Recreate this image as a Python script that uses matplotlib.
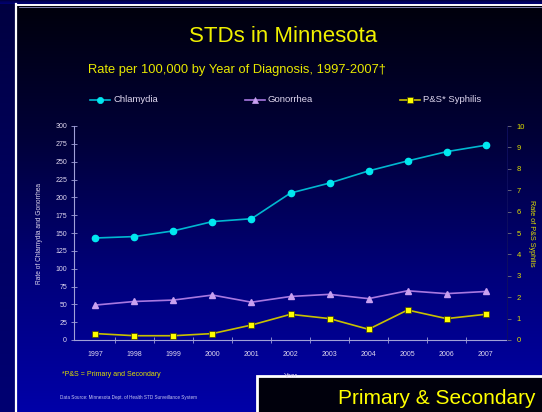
import numpy as np
import matplotlib
matplotlib.use("Agg")
import matplotlib.pyplot as plt
from matplotlib.patches import Rectangle
from matplotlib.lines import Line2D
from matplotlib.colors import LinearSegmentedColormap

plt.rcParams['font.family'] = ['Liberation Sans', 'DejaVu Sans']

years = [1997, 1998, 1999, 2000, 2001, 2002, 2003, 2004, 2005, 2006, 2007]
chlamydia = [143, 145, 153, 166, 170, 206, 220, 237, 251, 264, 273]
gonorrhea = [49, 54, 56, 63, 53, 61, 64, 58, 69, 65, 68]
syphilis = [0.3, 0.2, 0.2, 0.3, 0.7, 1.2, 1.0, 0.5, 1.4, 1.0, 1.2]
left_ticks = list(range(0, 301, 25))
right_ticks = list(range(0, 11))

W, H = 542, 412
fig = plt.figure(figsize=(W / 100, H / 100), dpi=100)

# background
bg = fig.add_axes([0, 0, 1, 1], zorder=-10)
bg.set_xlim(0, W)
bg.set_ylim(H, 0)
bg.axis('off')
grad = np.linspace(0, 1, 256).reshape(-1, 1)
cmap = LinearSegmentedColormap.from_list('bgc', ['#00000a', '#000038', '#00007a', '#0000a8'])
bg.imshow(grad, cmap=cmap, aspect='auto', extent=[0, W, H, 0])
strip = LinearSegmentedColormap.from_list('st', ['#000040', '#000060', '#000072'])
bg.imshow(grad, cmap=strip, aspect='auto', extent=[0, 16, H, 0])
bg.imshow(grad[:10], cmap=strip, aspect='auto', extent=[0, W, 4, 0])
bg.plot([16, 16], [4, H], color='white', lw=1.6)
bg.plot([16, W], [4.5, 4.5], color='white', lw=1.4)
bg.plot([18.5, W], [6.8, 6.8], color='#9090c0', lw=0.6)
# overlay box bottom right
bg.add_patch(Rectangle((257, 376), 300, 50, facecolor='#00000c', edgecolor='white', lw=2))
bg.text(338, 399, 'Primary & Secondary', color='#ffff00', fontsize=15,
        va='center', ha='left', clip_on=True)

# titles
fig.text(283 / W, 1 - 37 / H, 'STDs in Minnesota', color='#f0f000', fontsize=16,
         ha='center', va='center')
fig.text(237 / W, 1 - 70 / H, 'Rate per 100,000 by Year of Diagnosis, 1997-2007\u2020',
         color='#e8e800', fontsize=9.3, ha='center', va='center')

# main axes
ax = fig.add_axes([74 / W, 1 - 340 / H, (507 - 74) / W, (340 - 126) / H])
ax.patch.set_alpha(0)
ax2 = ax.twinx()

ax.plot(years, chlamydia, color='#00b8d0', lw=1.2, marker='o', ms=4.5,
        mfc='#00e8f0', mec='#00e8f0', zorder=3)
ax.plot(years, gonorrhea, color='#a878e0', lw=1.2, marker='^', ms=4.5,
        mfc='#c8a0f0', mec='#c8a0f0', zorder=3)
ax2.plot(years, syphilis, color='#c8c000', lw=1.2, marker='s', ms=5,
         mfc='#ffff00', mec='#404000', mew=0.5, zorder=3)

ax.set_xlim(1996.45, 2007.55)
ax.set_ylim(0, 300)
ax2.set_ylim(0, 10)
ax.set_yticks(left_ticks)
ax.set_yticklabels([str(t) for t in left_ticks])
ax2.set_yticks(right_ticks)
ax2.set_yticklabels([str(t) for t in right_ticks])
ax.set_xticks(years)
ax.set_xticklabels([str(y) for y in years])
ax.set_xticks([y + 0.5 for y in years[:-1]], minor=True)

for a in (ax, ax2):
    for s in a.spines.values():
        s.set_visible(False)
ax.spines['left'].set_visible(True)
ax.spines['bottom'].set_visible(True)
ax.spines['left'].set_color('#a0a0d8')
ax.spines['bottom'].set_color('#a0a0d8')
ax.spines['left'].set_linewidth(0.8)
ax.spines['bottom'].set_linewidth(0.8)
ax2.spines['right'].set_visible(True)
ax2.spines['right'].set_color('#101060')
ax2.spines['right'].set_linewidth(0.6)

ax.tick_params(axis='y', direction='inout', length=4, width=0.6, color='#a0a0d8',
               labelsize=5, labelcolor='#e0d8f0', pad=3)
ax.tick_params(axis='x', which='major', length=0, labelsize=5,
               labelcolor='#e0d8f0', pad=8)
ax.tick_params(axis='x', which='minor', direction='inout', length=4, width=0.6,
               color='#a0a0d8')
ax2.tick_params(axis='y', direction='out', length=3, width=0.6, color='#707080',
                labelsize=5.5, labelcolor='#e0e000', pad=4)

ax.set_ylabel('Rate of Chlamydia and Gonorrhea', fontsize=4.8, color='#e0d8f0',
              labelpad=2)
ax.yaxis.set_label_coords(-0.072, 0.5)
ax2.set_ylabel('Rate of P&S Syphilis', fontsize=5.2, color='#e0e000', rotation=270,
               labelpad=8)
ax2.yaxis.set_label_coords(1.065, 0.5)
ax.set_xlabel('Year', fontsize=5, color='#e0d8f0')
ax.xaxis.set_label_coords(0.5, -0.155)

# legend (manual)
leg_items = [
    (90, 'Chlamydia', '#00b8d0', 'o', '#00e8f0', '#00e8f0'),
    (245, 'Gonorrhea', '#a878e0', '^', '#c8a0f0', '#c8a0f0'),
    (400, 'P&S* Syphilis', '#c8c000', 's', '#ffff00', '#404000'),
]
for x0, lab, lc, mk, mf, me in leg_items:
    fig.add_artist(Line2D([x0 / W, (x0 + 20) / W], [1 - 100 / H] * 2, color=lc, lw=1.2,
                          transform=fig.transFigure))
    fig.add_artist(Line2D([(x0 + 10) / W], [1 - 100 / H], marker=mk, ms=4.5, mfc=mf,
                          mec=me, mew=0.5, transform=fig.transFigure))
    fig.text((x0 + 23) / W, 1 - 100 / H, lab, fontsize=6.8, color='#e0d8f0',
             ha='left', va='center')

fig.text(62 / W, 1 - 375 / H, '*P&S = Primary and Secondary', fontsize=5,
         color='#e0e000', ha='left', va='center')
fig.text(60 / W, 1 - 397 / H, 'Data Source: Minnesota Dept. of Health STD Surveillance System',
         fontsize=3.3, color='#c8c8f0', ha='left', va='center')

fig.savefig('out.png', dpi=100)
